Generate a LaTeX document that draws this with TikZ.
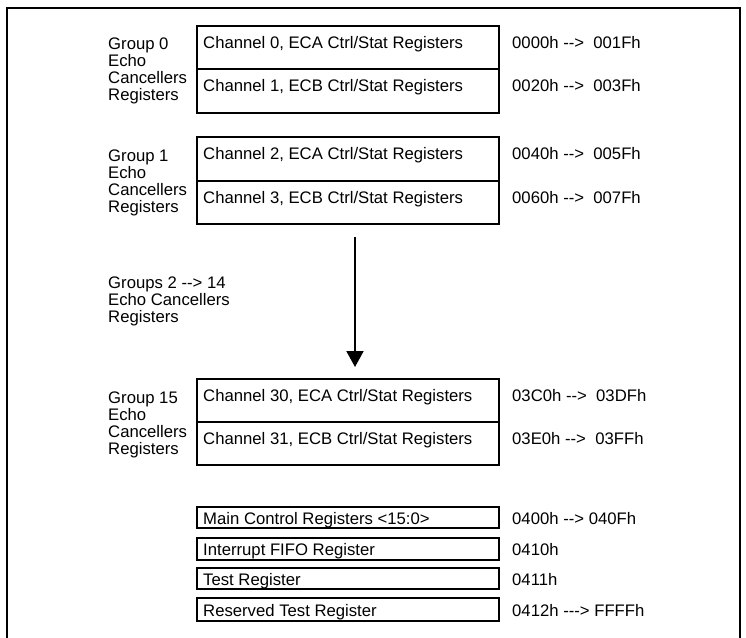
\documentclass[tikz,border=0pt]{standalone}
\usepackage{fontspec}
\setmainfont{Liberation Sans}
\usetikzlibrary{arrows.meta}
\newcommand\grplbl[1]{\begin{tabular}[t]{@{}l@{}}#1\end{tabular}}
\begin{document}
\begin{tikzpicture}[x=1pt,y=-1pt,
  txt/.style={anchor=base west,inner sep=0pt,font=\fontsize{16.7}{16.7}\selectfont},
  cell/.style={draw,line width=2pt,anchor=north west,inner sep=0pt,outer sep=0pt,minimum width=302pt},
  smallbox/.style={draw,line width=2pt,anchor=north west,inner sep=0pt,outer sep=0pt,minimum width=302pt},
  frame/.style={line width=2pt}]
\useasboundingbox (0,0) rectangle (746,637);
% frame (open at the bottom)
\coordinate (fbl) at (7,640);
\coordinate (ftl) at (7,8);
\coordinate (ftr) at (740,8);
\coordinate (fbr) at (740,640);
\draw[frame] (fbl) -- (ftl) -- (ftr) -- (fbr);

% Group 0
\node[cell,minimum height=43pt] (c0) at (197,26) {};
\node[cell,minimum height=44pt] (c1) at (197,69) {};
\node[txt] (g0) at (108,49) {\grplbl{Group 0\\Echo\\Cancellers\\Registers}};
\node[txt] (t0) at (203,48) {Channel 0, ECA Ctrl/Stat Registers};
\node[txt] (t1) at (203,91) {Channel 1, ECB Ctrl/Stat Registers};
\node[txt] (a0) at (512,48) {0000h -{}-{}>\ \ 001Fh};
\node[txt] (a1) at (512,91) {0020h -{}-{}>\ \ 003Fh};

% Group 1
\node[cell,minimum height=44pt] (c2) at (197,137) {};
\node[cell,minimum height=43pt] (c3) at (197,181) {};
\node[txt] (g1) at (108,161) {\grplbl{Group 1\\Echo\\Cancellers\\Registers}};
\node[txt] (t2) at (203,159) {Channel 2, ECA Ctrl/Stat Registers};
\node[txt] (t3) at (203,203) {Channel 3, ECB Ctrl/Stat Registers};
\node[txt] (a2) at (512,159) {0040h -{}-{}>\ \ 005Fh};
\node[txt] (a3) at (512,203) {0060h -{}-{}>\ \ 007Fh};

% Groups 2 -> 14
\node[txt] (g2) at (108,288) {\grplbl{Groups 2 -{}-{}> 14\\Echo Cancellers\\Registers}};
\coordinate (arrs) at (355,237);
\coordinate (arre) at (355,367);
\draw[line width=2pt,-{Triangle[width=17pt,length=16pt]}] (arrs) -- (arre);

% Group 15
\node[cell,minimum height=43pt] (c30) at (197,379) {};
\node[cell,minimum height=43pt] (c31) at (197,422) {};
\node[txt] (g15) at (108,403) {\grplbl{Group 15\\Echo\\Cancellers\\Registers}};
\node[txt] (t30) at (203,401) {Channel 30, ECA Ctrl/Stat Registers};
\node[txt] (t31) at (203,444) {Channel 31, ECB Ctrl/Stat Registers};
\node[txt] (a30) at (512,401) {03C0h -{}-{}>\ \ 03DFh};
\node[txt] (a31) at (512,444) {03E0h -{}-{}>\ \ 03FFh};

% single registers
\node[smallbox,minimum height=21pt] (m0) at (197,507) {};
\node[smallbox,minimum height=22pt] (m1) at (197,538) {};
\node[smallbox,minimum height=21pt] (m2) at (197,568) {};
\node[smallbox,minimum height=23pt] (m3) at (197,598) {};
\node[txt] (s0) at (203,524) {Main Control Registers <15:0>};
\node[txt] (s1) at (203,555) {Interrupt FIFO Register};
\node[txt] (s2) at (203,585) {Test Register};
\node[txt] (s3) at (203,616) {Reserved Test Register};
\node[txt] (b0) at (512,524) {0400h -{}-{}> 040Fh};
\node[txt] (b1) at (512,555) {0410h};
\node[txt] (b2) at (512,585) {0411h};
\node[txt] (b3) at (512,616) {0412h -{}-{}-{}> FFFFh};
\end{tikzpicture}
\end{document}
